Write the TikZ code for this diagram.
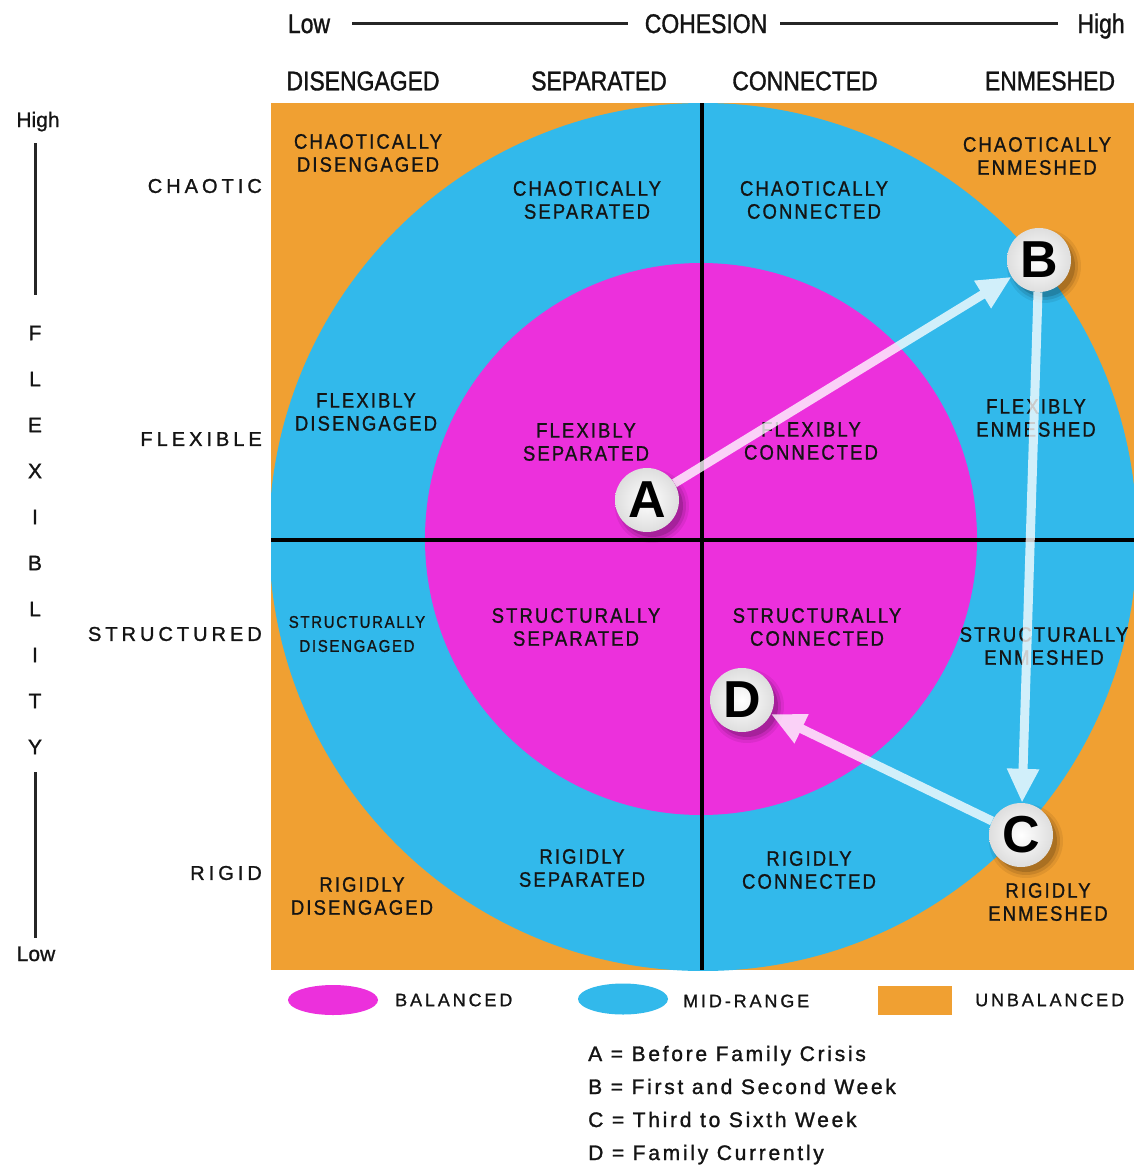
\documentclass[tikz,border=0pt]{standalone}
\usepackage{fontspec}
\setmainfont{Liberation Sans}
\newfontfamily\hdfont[FakeStretch=0.85,FakeBold=1.2]{Liberation Sans}
\newfontfamily\plainfont[FakeBold=1]{Liberation Sans}
\newfontfamily\regfont[FakeStretch=0.88,LetterSpace=10,FakeBold=1]{Liberation Sans}
\newfontfamily\rowfont[LetterSpace=20,FakeBold=1.2]{Liberation Sans}
\newfontfamily\legfont[LetterSpace=16,FakeBold=1]{Liberation Sans}
\newfontfamily\keyfont[LetterSpace=13,FakeBold=1.3]{Liberation Sans}
\usetikzlibrary{arrows.meta,shapes.geometric}
\definecolor{orng}{RGB}{240,160,50}
\definecolor{sky}{RGB}{50,185,235}
\definecolor{mag}{RGB}{236,48,220}
\begin{document}
\begin{tikzpicture}[x=1pt,y=-1pt,
  every node/.style={inner sep=0pt, text=black!92},
  hdr/.style={font=\hdfont\fontsize{27}{30}\selectfont},
  rowlab/.style={anchor=east, font=\rowfont\fontsize{20}{24}\selectfont},
  axl/.style={font=\rowfont\fontsize{21}{24}\selectfont},
  axw/.style={font=\plainfont\fontsize{21}{24}\selectfont},
  region/.style={align=center, font=\regfont\fontsize{21}{23}\selectfont},
  smallregion/.style={align=center, font=\regfont\fontsize{17}{24}\selectfont},
  ball/.style={circle, minimum size=64pt, inner color=white, outer color=black!13, font=\bfseries\fontsize{52}{52}\selectfont, text=black},
  arr/.style={line width=9pt, white, -{Triangle[length=34pt,width=30pt]}},
  arrgrp/.style={transparency group, opacity=0.78},
  axis/.style={line width=3pt, black!85},
  cross/.style={line width=4pt, black},
  legtext/.style={anchor=west, font=\legfont\fontsize{18}{20}\selectfont},
  keyline/.style={anchor=base west, font=\keyfont\fontsize{21}{23}\selectfont}
]
\path[use as bounding box, fill=white] (0,0) rectangle (1134,1165);

% background regions
\fill[orng] (271,103) rectangle (1134,970);
\begin{scope}
  \clip (271,103) rectangle (1134,970);
  \fill[sky] (703,537) circle (434pt);
\end{scope}
\fill[mag] (701,539) circle (276pt);

% cross lines
\coordinate (vt) at (702,103);
\coordinate (vb) at (702,970);
\coordinate (hl) at (271,540);
\coordinate (hr) at (1134,540);
\draw[cross] (vt) -- (vb);
\draw[cross] (hl) -- (hr);

% top axis
\node[hdr, anchor=base] (low) at (309,33) {Low};
\node[hdr, anchor=base] (coh) at (706,33) {COHESION};
\node[hdr, anchor=base] (high) at (1101,33) {High};
\coordinate (t1) at (352,23);
\coordinate (t2) at (628,23);
\coordinate (t3) at (780,23);
\coordinate (t4) at (1058,23);
\draw[axis] (t1) -- (t2);
\draw[axis] (t3) -- (t4);

% column headers
\node[hdr] (cdis) at (363,81) {DISENGAGED};
\node[hdr] (csep) at (599,81) {SEPARATED};
\node[hdr] (ccon) at (805,81) {CONNECTED};
\node[hdr] (cenm) at (1050,81) {ENMESHED};

% left axis
\node[axw, anchor=base] (lhigh) at (38,127) {High};
\node[axw, anchor=base] (llow) at (36,961) {Low};
\foreach \ch/\yy [count=\i] in {F/333,L/379,E/425,X/471,I/517,B/563,L/609,I/655,T/701,Y/747}{
  \node[axl] (fl\i) at (35,\yy) {\ch};
}
\coordinate (l1) at (35,143);
\coordinate (l2) at (35,295);
\coordinate (l3) at (35,772);
\coordinate (l4) at (35,938);
\draw[axis] (l1) -- (l2);
\draw[axis] (l3) -- (l4);

% row labels
\node[rowlab] (rchao) at (262,186) {CHAOTIC};
\node[rowlab] (rflex) at (262,439) {FLEXIBLE};
\node[rowlab] (rstru) at (262,634) {STRUCTURED};
\node[rowlab] (rrig) at (262,873) {RIGID};

% region labels
\node[region] (r11) at (368,153) {CHAOTICALLY\\DISENGAGED};
\node[region] (r12) at (587,200) {CHAOTICALLY\\SEPARATED};
\node[region] (r13) at (814,200) {CHAOTICALLY\\CONNECTED};
\node[region] (r14) at (1037,156) {CHAOTICALLY\\ENMESHED};
\node[region] (r21) at (366,412) {FLEXIBLY\\DISENGAGED};
\node[region] (r22) at (586,442) {FLEXIBLY\\SEPARATED};
\node[region] (r23) at (811,441) {FLEXIBLY\\CONNECTED};
\node[region] (r24) at (1036,418) {FLEXIBLY\\ENMESHED};
\node[smallregion] (r31) at (357,634) {STRUCTURALLY\\DISENGAGED};
\node[region] (r32) at (576,627) {STRUCTURALLY\\SEPARATED};
\node[region] (r33) at (817,627) {STRUCTURALLY\\CONNECTED};
\node[region] (r34) at (1044,646) {STRUCTURALLY\\ENMESHED};
\node[region] (r41) at (362,896) {RIGIDLY\\DISENGAGED};
\node[region] (r42) at (582,868) {RIGIDLY\\SEPARATED};
\node[region] (r43) at (809,870) {RIGIDLY\\CONNECTED};
\node[region] (r44) at (1048,902) {RIGIDLY\\ENMESHED};

% balls
\coordinate (pA) at (647,500);
\coordinate (pB) at (1039,260);
\coordinate (pC) at (1021,835);
\coordinate (pD) at (742,700);
\foreach \p in {pA,pB,pC,pD}{
  \foreach \r/\o in {37/0.07,34/0.1,31/0.15}{
    \fill[black, opacity=\o] ([shift={(5,6)}]\p) circle (\r pt);
  }
}
\node[ball] (A) at (pA) {A};
\node[ball] (B) at (pB) {B};
\node[ball] (C) at (pC) {C};
\node[ball] (D) at (pD) {D};

% arrows
\begin{scope}[arrgrp]
\draw[arr] (A) -- (B);
\end{scope}
\begin{scope}[arrgrp]
\draw[arr] (B) -- (C);
\end{scope}
\begin{scope}[arrgrp]
\draw[arr] (C) -- (D);
\end{scope}

% legend
\node[ellipse, fill=mag, minimum width=90pt, minimum height=30pt] (kbal) at (333,1000) {};
\node[legtext] (tbal) at (395,1000) {BALANCED};
\node[ellipse, fill=sky, minimum width=90pt, minimum height=31pt] (kmid) at (623,999) {};
\node[legtext] (tmid) at (683,1001) {MID-RANGE};
\node[rectangle, fill=orng, minimum width=74pt, minimum height=29pt] (kunb) at (915,1000) {};
\node[legtext] (tunb) at (975,1000) {UNBALANCED};

% key
\node[keyline] (kA) at (588,1061) {A = Before Family Crisis};
\node[keyline] (kB) at (588,1094) {B = First and Second Week};
\node[keyline] (kC) at (588,1127) {C = Third to Sixth Week};
\node[keyline] (kD) at (588,1160) {D = Family Currently};
\end{tikzpicture}
\end{document}
